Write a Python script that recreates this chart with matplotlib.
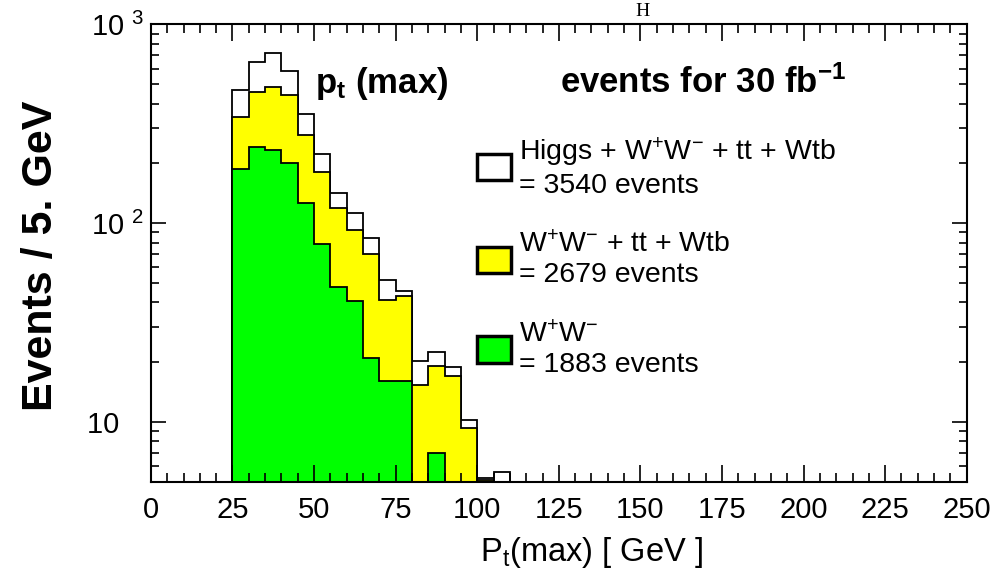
"""pt_max_plot

Stacked pt(max) histogram: Higgs signal on top of W+W-, tt and Wtb backgrounds.
"""

import numpy as np
import matplotlib
matplotlib.use('Agg')
import matplotlib.pyplot as plt
from matplotlib.patches import Patch
from matplotlib.ticker import FixedLocator, MultipleLocator, LogLocator, NullFormatter

# 5 GeV bins
bin_edges = [25, 30, 35, 40, 45, 50, 55, 60, 65, 70, 75, 80, 85, 90, 95, 100, 105, 110]

# Higgs + W+W- + tt + Wtb
total = [468, 650, 721, 585, 353, 224, 142, 113, 84, 51.6, 45.7, 20.3, 22.5, 18.9, 10.3, 5.25, 5.6]
# W+W- + tt + Wtb
bkg_all = [344, 456, 486, 441, 278, 181, 119, 92.2, 69.8, 41, 43, 15.4, 19.1, 17, 9.3, 5.1, 0]
# W+W- only
ww = [187, 241, 235, 201, 127, 79, 47.9, 40.6, 21, 16.2, 16.2, 0, 7.0, 0, 0, 0, 0]

labels = ['Higgs + W$^{+}$W$^{-}$ + tt + Wtb\n= 3540 events',
          'W$^{+}$W$^{-}$ + tt + Wtb\n= 2679 events',
          'W$^{+}$W$^{-}$\n= 1883 events']
colors = ['white', '#ffff00', '#00ff00']

y_ticks = [10, 100, 1000]
y_ticklabels = ['10   ', '10 $^{2}$', '10 $^{3}$']
x_ticks = [0, 25, 50, 75, 100, 125, 150, 175, 200, 225, 250]

plt.rcParams['font.family'] = ['Liberation Sans', 'DejaVu Sans']
plt.rcParams['mathtext.default'] = 'regular'

BASE = 1.0  # below the visible range, log axis


def main():
    fig = plt.figure(figsize=(10.06, 5.75), dpi=100)
    ax = fig.add_axes([0.150, 0.1617, 0.811, 0.7957])
    ax.set_yscale('log')

    for vals, col in zip([total, bkg_all, ww], colors):
        v = np.asarray(vals, dtype=float)
        v = np.where(v > 0, v, BASE)
        ax.stairs(v, bin_edges, baseline=BASE, fill=True,
                  facecolor=col, edgecolor='black', linewidth=1.3)

    ax.set_xlim(0, 250)
    ax.set_ylim(5, 1000)

    ax.xaxis.set_major_locator(FixedLocator(x_ticks))
    ax.xaxis.set_minor_locator(MultipleLocator(5))
    ax.yaxis.set_major_locator(FixedLocator(y_ticks))
    ax.set_yticklabels(y_ticklabels)
    ax.yaxis.set_minor_locator(LogLocator(base=10, subs=np.arange(2, 10)))
    ax.yaxis.set_minor_formatter(NullFormatter())

    ax.tick_params(which='both', direction='in', top=True, right=True, width=1.2)
    ax.tick_params(axis='x', which='major', length=12, pad=10, labelsize=21)
    ax.tick_params(axis='x', which='minor', length=6.5)
    ax.tick_params(axis='y', which='major', length=11, pad=5, labelsize=21)
    ax.tick_params(axis='y', which='minor', length=5.5)
    for s in ax.spines.values():
        s.set_linewidth(1.5)

    ax.set_ylabel('Events / 5. GeV', fontsize=31, fontweight='bold')
    ax.yaxis.set_label_coords(-0.11, 0.494)
    ax.set_xlabel('P$_{t}$(max) [ GeV ]', fontsize=23.5)
    ax.xaxis.set_label_coords(0.54, -0.115)

    ax.text(0.201, 0.85, 'p$_{t}$ (max)', transform=ax.transAxes,
            fontsize=25, fontweight='bold', ha='left', va='baseline')
    ax.text(0.501, 0.85, 'events for 30 fb$^{-1}$', transform=ax.transAxes,
            fontsize=25, fontweight='bold', ha='left', va='baseline')

    handles = [Patch(facecolor=c, edgecolor='black', linewidth=2.5) for c in colors]
    leg = ax.legend(handles, labels, loc='upper left', bbox_to_anchor=(0.4, 0.758),
                    frameon=False, fontsize=20.5, handlelength=1.2, handleheight=1.05,
                    handletextpad=0.28, labelspacing=1.14, borderpad=0, borderaxespad=0)
    for t in leg.get_texts():
        t.set_linespacing(1.2)

    fig.text(643 / 1006, 1 - 16 / 575, 'H', family=['Liberation Serif', 'DejaVu Serif'],
             fontsize=14, ha='center', va='baseline')

    fig.savefig('out.png', dpi=100)


if __name__ == '__main__':
    main()
